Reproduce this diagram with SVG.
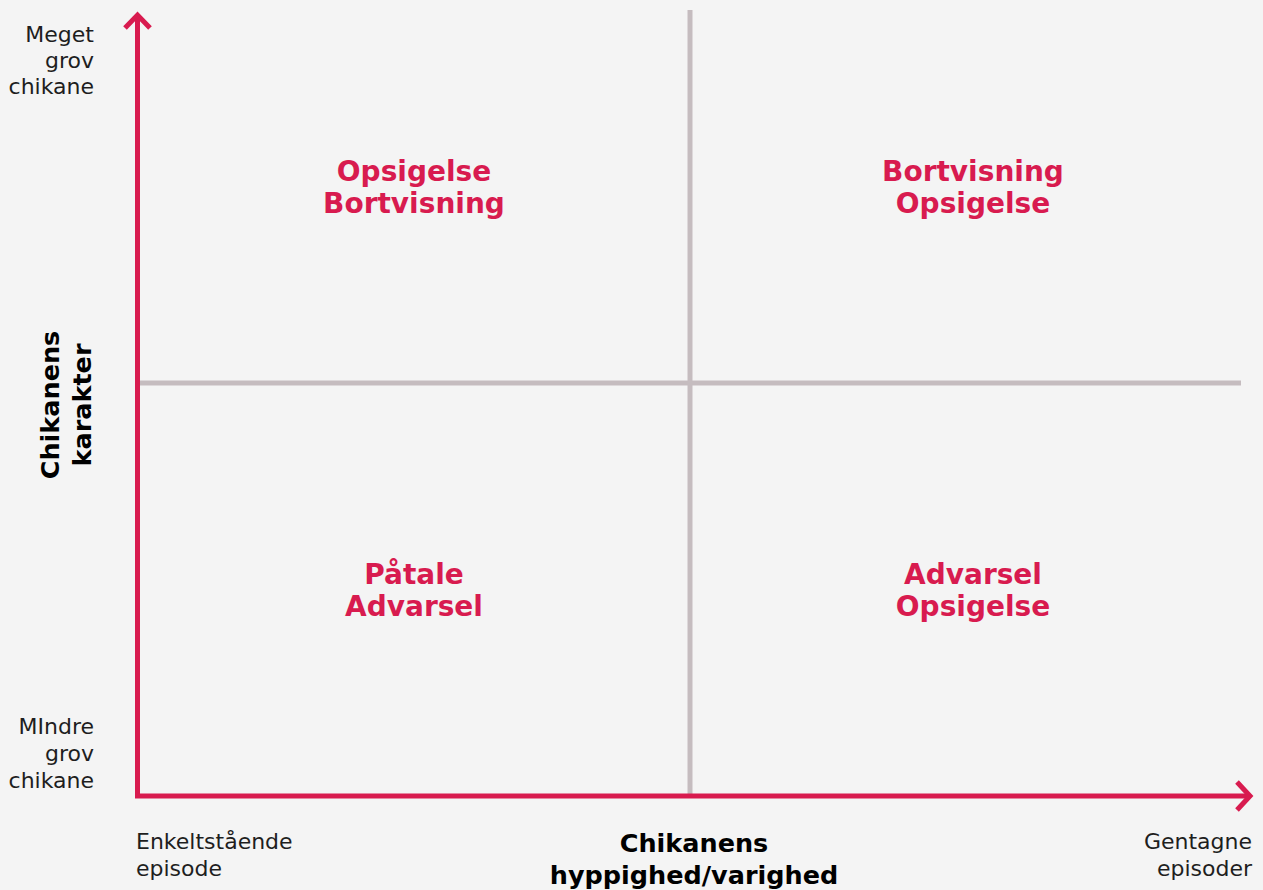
<svg xmlns="http://www.w3.org/2000/svg" width="1263" height="890" viewBox="0 0 1263 890">
<style>
.lbl{font-family:"DejaVu Sans",sans-serif;font-size:22px;fill:#1e1e1e}
.q{font-family:"DejaVu Sans",sans-serif;font-size:28px;font-weight:700;fill:#d81b4f;text-anchor:middle}
.t{font-family:"DejaVu Sans",sans-serif;font-size:25.5px;font-weight:700;fill:#000;text-anchor:middle}
.grid{stroke:#c5bcbf;stroke-width:5;fill:none}
.axis{stroke:#d81b4f;stroke-width:5;fill:none}
</style>
<rect width="1263" height="890" fill="#f4f4f4"/>
<g id="connectors">
<line class="grid" x1="690" y1="10" x2="690" y2="794"/>
<line class="grid" x1="140" y1="383" x2="1241" y2="383"/>
<path class="axis" d="M137.5 15 V796 H1250"/>
<path class="axis" d="M125 28 L137.5 15 L150 28"/>
<path class="axis" d="M1237 782 L1250 796 L1237 810"/>
</g>
<g id="y-labels">
<text class="lbl" text-anchor="end" x="94" y="42">Meget</text>
<text class="lbl" text-anchor="end" x="94" y="68">grov</text>
<text class="lbl" text-anchor="end" x="94" y="94">chikane</text>
<text class="lbl" text-anchor="end" x="94" y="734">MIndre</text>
<text class="lbl" text-anchor="end" x="94" y="761">grov</text>
<text class="lbl" text-anchor="end" x="94" y="788">chikane</text>
</g>
<g id="x-labels">
<text class="lbl" x="136" y="849">Enkeltstående</text>
<text class="lbl" x="136" y="876">episode</text>
<text class="lbl" text-anchor="end" x="1252" y="849">Gentagne</text>
<text class="lbl" text-anchor="end" x="1252" y="876">episoder</text>
</g>
<g id="q1">
<text class="q" x="414" y="181">Opsigelse</text>
<text class="q" x="414" y="213">Bortvisning</text>
</g>
<g id="q2">
<text class="q" x="973" y="181">Bortvisning</text>
<text class="q" x="973" y="213">Opsigelse</text>
</g>
<g id="q3">
<text class="q" x="414" y="584">Påtale</text>
<text class="q" x="414" y="616">Advarsel</text>
</g>
<g id="q4">
<text class="q" x="973" y="584">Advarsel</text>
<text class="q" x="973" y="616">Opsigelse</text>
</g>
<g id="x-title">
<text class="t" x="694" y="852">Chikanens</text>
<text class="t" x="694" y="884">hyppighed/varighed</text>
</g>
<g id="y-title" transform="translate(0,405) rotate(-90)">
<text class="t" x="0" y="59">Chikanens</text>
<text class="t" x="0" y="91">karakter</text>
</g>
</svg>
